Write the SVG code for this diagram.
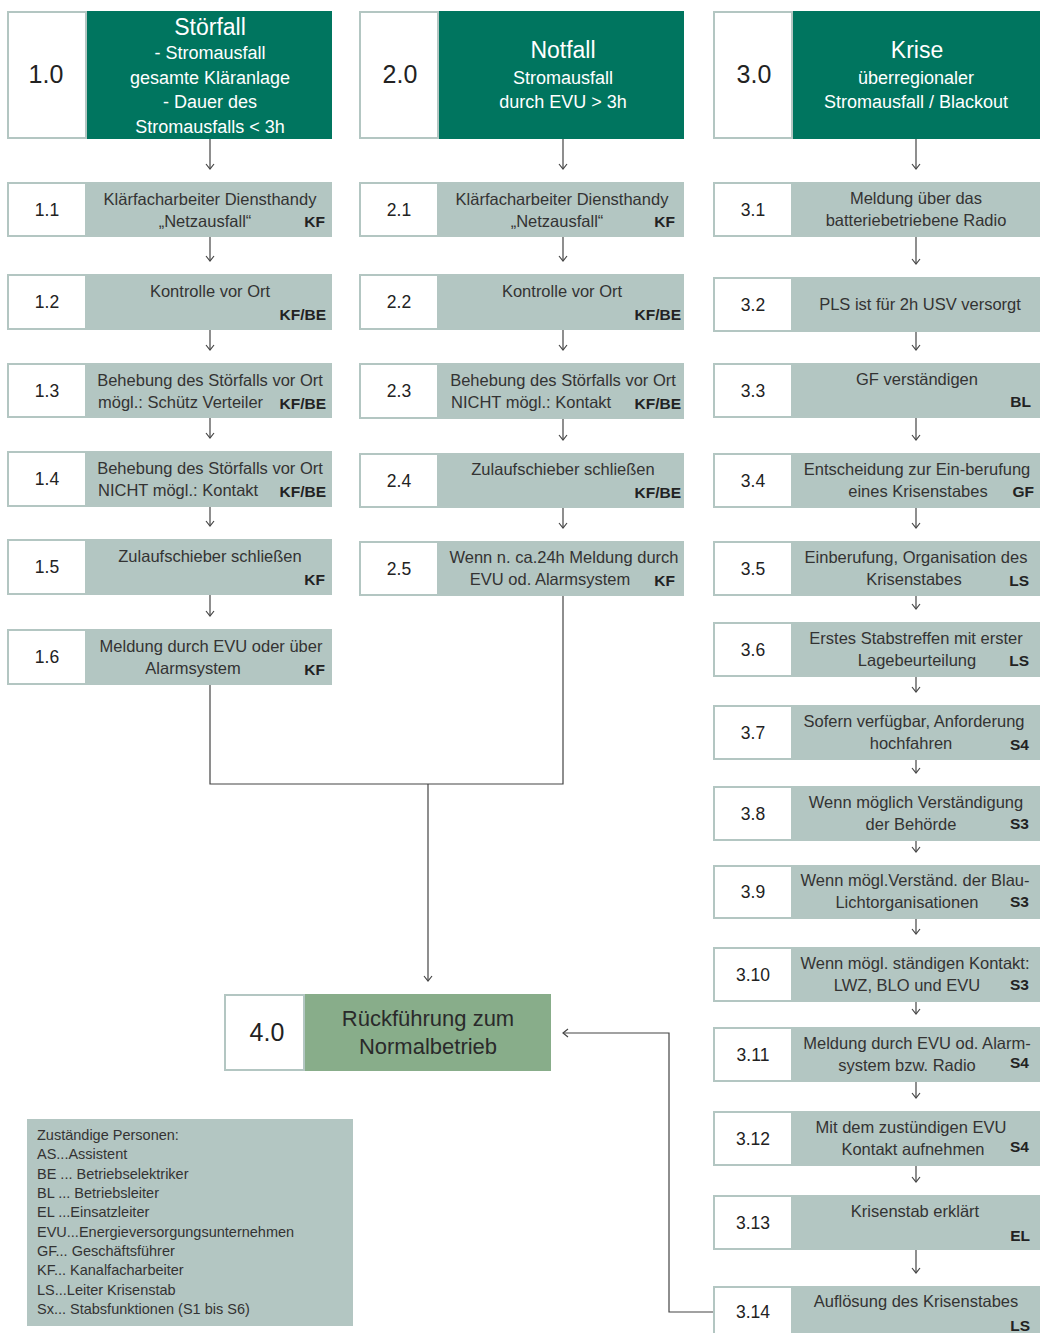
<svg xmlns="http://www.w3.org/2000/svg" width="1040" height="1333" viewBox="0 0 1040 1333">
<defs>
<style>
.nb{fill:#fff;stroke:#b3c6c2;stroke-width:2}
.hd{fill:#00755f}
.st{fill:#b3c6c2}
.g4{fill:#88ad8a}
.lg{fill:#b3c6c2}
text{font-family:"Liberation Sans",Arial,sans-serif}
.t{font-size:16.5px;fill:#333;text-anchor:middle}
.ts{font-size:16.5px;fill:#333;text-anchor:start}
.r{font-size:15.5px;font-weight:bold;fill:#222;text-anchor:end}
.n{font-size:17.5px;fill:#222;text-anchor:middle}
.N{font-size:25px;fill:#222;text-anchor:middle}
.h{font-size:18px;fill:#fff;text-anchor:middle}
.H{font-size:23px;fill:#fff;text-anchor:middle}
.g{font-size:22px;fill:#2a2a2a;text-anchor:middle}
.l{font-size:14.5px;fill:#333}
.c{fill:none;stroke:#444;stroke-width:1.2}
</style>
<marker id="arr" viewBox="-6 -6 12 12" refX="0" refY="0" markerWidth="12" markerHeight="12" markerUnits="userSpaceOnUse" orient="auto">
<path d="M-5,-4 L0,0 L-5,4" fill="none" stroke="#444" stroke-width="1.2"/>
</marker>
</defs>
<rect width="1040" height="1333" fill="#fff"/>

<g id="n1_0">
<rect class="nb" x="8" y="12" width="78" height="126"/>
<rect class="hd" x="87" y="11" width="245" height="128"/>
<text class="N" x="46" y="83">1.0</text>
<text class="H" x="210" y="35">Störfall</text>
<text class="h" x="210" y="59">- Stromausfall</text>
<text class="h" x="210" y="84">gesamte Kläranlage</text>
<text class="h" x="210" y="108">- Dauer des</text>
<text class="h" x="210" y="133">Stromausfalls &lt; 3h</text>
</g>
<g id="n2_0">
<rect class="nb" x="360" y="12" width="78" height="126"/>
<rect class="hd" x="439" y="11" width="245" height="128"/>
<text class="N" x="400" y="83">2.0</text>
<text class="H" x="563" y="58">Notfall</text>
<text class="h" x="563" y="84">Stromausfall</text>
<text class="h" x="563" y="108">durch EVU &gt; 3h</text>
</g>
<g id="n3_0">
<rect class="nb" x="714" y="12" width="78" height="126"/>
<rect class="hd" x="793" y="11" width="247" height="128"/>
<text class="N" x="754" y="83">3.0</text>
<text class="H" x="917" y="58">Krise</text>
<text class="h" x="916" y="84">überregionaler</text>
<text class="h" x="916" y="108">Stromausfall / Blackout</text>
</g>

<g id="n1_1"><rect class="nb" x="8" y="183" width="78" height="53"/><rect class="st" x="87" y="182" width="245" height="55"/>
<text class="n" x="47" y="216">1.1</text><text class="t" x="210" y="205">Klärfacharbeiter Diensthandy</text><text class="t" x="205" y="227">„Netzausfall“</text><text class="r" x="325" y="227">KF</text></g>
<g id="n1_2"><rect class="nb" x="8" y="275" width="78" height="54"/><rect class="st" x="87" y="274" width="245" height="56"/>
<text class="n" x="47" y="308">1.2</text><text class="t" x="210" y="297">Kontrolle vor Ort</text><text class="r" x="326" y="320">KF/BE</text></g>
<g id="n1_3"><rect class="nb" x="8" y="364" width="78" height="53"/><rect class="st" x="87" y="363" width="245" height="55"/>
<text class="n" x="47" y="397">1.3</text><text class="t" x="210" y="386">Behebung des Störfalls vor Ort</text><text class="ts" x="98" y="408">mögl.: Schütz Verteiler</text><text class="r" x="326" y="409">KF/BE</text></g>
<g id="n1_4"><rect class="nb" x="8" y="452" width="78" height="54"/><rect class="st" x="87" y="451" width="245" height="56"/>
<text class="n" x="47" y="485">1.4</text><text class="t" x="210" y="474">Behebung des Störfalls vor Ort</text><text class="ts" x="98" y="496">NICHT mögl.: Kontakt</text><text class="r" x="326" y="497">KF/BE</text></g>
<g id="n1_5"><rect class="nb" x="8" y="540" width="78" height="54"/><rect class="st" x="87" y="539" width="245" height="56"/>
<text class="n" x="47" y="573">1.5</text><text class="t" x="210" y="562">Zulaufschieber schließen</text><text class="r" x="325" y="585">KF</text></g>
<g id="n1_6"><rect class="nb" x="8" y="630" width="78" height="54"/><rect class="st" x="87" y="629" width="245" height="56"/>
<text class="n" x="47" y="663">1.6</text><text class="t" x="211" y="652">Meldung durch EVU oder über</text><text class="t" x="193" y="674">Alarmsystem</text><text class="r" x="325" y="675">KF</text></g>

<g id="n2_1"><rect class="nb" x="360" y="183" width="78" height="53"/><rect class="st" x="439" y="182" width="245" height="55"/>
<text class="n" x="399" y="216">2.1</text><text class="t" x="562" y="205">Klärfacharbeiter Diensthandy</text><text class="t" x="557" y="227">„Netzausfall“</text><text class="r" x="675" y="227">KF</text></g>
<g id="n2_2"><rect class="nb" x="360" y="275" width="78" height="54"/><rect class="st" x="439" y="274" width="245" height="56"/>
<text class="n" x="399" y="308">2.2</text><text class="t" x="562" y="297">Kontrolle vor Ort</text><text class="r" x="681" y="320">KF/BE</text></g>
<g id="n2_3"><rect class="nb" x="360" y="364" width="78" height="54"/><rect class="st" x="439" y="363" width="245" height="56"/>
<text class="n" x="399" y="397">2.3</text><text class="t" x="563" y="386">Behebung des Störfalls vor Ort</text><text class="ts" x="451" y="408">NICHT mögl.: Kontakt</text><text class="r" x="681" y="409">KF/BE</text></g>
<g id="n2_4"><rect class="nb" x="360" y="454" width="78" height="53"/><rect class="st" x="439" y="453" width="245" height="55"/>
<text class="n" x="399" y="487">2.4</text><text class="t" x="563" y="475">Zulaufschieber schließen</text><text class="r" x="681" y="498">KF/BE</text></g>
<g id="n2_5"><rect class="nb" x="360" y="542" width="78" height="53"/><rect class="st" x="439" y="541" width="245" height="55"/>
<text class="n" x="399" y="575">2.5</text><text class="t" x="564" y="563">Wenn n. ca.24h Meldung durch</text><text class="t" x="550" y="585">EVU od. Alarmsystem</text><text class="r" x="675" y="586">KF</text></g>

<g id="n3_1"><rect class="nb" x="714" y="183" width="78" height="53"/><rect class="st" x="793" y="182" width="247" height="55"/>
<text class="n" x="753" y="216">3.1</text><text class="t" x="916" y="204">Meldung über das</text><text class="t" x="916" y="226">batteriebetriebene Radio</text></g>
<g id="n3_2"><rect class="nb" x="714" y="278" width="78" height="53"/><rect class="st" x="793" y="277" width="247" height="55"/>
<text class="n" x="753" y="311">3.2</text><text class="t" x="920" y="310">PLS ist für 2h USV versorgt</text></g>
<g id="n3_3"><rect class="nb" x="714" y="364" width="78" height="53"/><rect class="st" x="793" y="363" width="247" height="55"/>
<text class="n" x="753" y="397">3.3</text><text class="t" x="917" y="385">GF verständigen</text><text class="r" x="1031" y="407">BL</text></g>
<g id="n3_4"><rect class="nb" x="714" y="454" width="78" height="53"/><rect class="st" x="793" y="453" width="247" height="55"/>
<text class="n" x="753" y="487">3.4</text><text class="t" x="917" y="475">Entscheidung zur Ein-berufung</text><text class="t" x="918" y="497">eines Krisenstabes</text><text class="r" x="1034" y="497">GF</text></g>
<g id="n3_5"><rect class="nb" x="714" y="542" width="78" height="53"/><rect class="st" x="793" y="541" width="247" height="55"/>
<text class="n" x="753" y="575">3.5</text><text class="t" x="916" y="563">Einberufung, Organisation des</text><text class="t" x="914" y="585">Krisenstabes</text><text class="r" x="1029" y="586">LS</text></g>
<g id="n3_6"><rect class="nb" x="714" y="623" width="78" height="53"/><rect class="st" x="793" y="622" width="247" height="55"/>
<text class="n" x="753" y="656">3.6</text><text class="t" x="916" y="644">Erstes Stabstreffen mit erster</text><text class="t" x="917" y="666">Lagebeurteilung</text><text class="r" x="1029" y="666">LS</text></g>
<g id="n3_7"><rect class="nb" x="714" y="706" width="78" height="53"/><rect class="st" x="793" y="705" width="247" height="55"/>
<text class="n" x="753" y="739">3.7</text><text class="t" x="914" y="727">Sofern verfügbar, Anforderung</text><text class="t" x="911" y="749">hochfahren</text><text class="r" x="1029" y="750">S4</text></g>
<g id="n3_8"><rect class="nb" x="714" y="787" width="78" height="53"/><rect class="st" x="793" y="786" width="247" height="55"/>
<text class="n" x="753" y="820">3.8</text><text class="t" x="916" y="808">Wenn möglich Verständigung</text><text class="t" x="911" y="830">der Behörde</text><text class="r" x="1029" y="829">S3</text></g>
<g id="n3_9"><rect class="nb" x="714" y="866" width="78" height="52"/><rect class="st" x="793" y="865" width="247" height="54"/>
<text class="n" x="753" y="898">3.9</text><text class="t" x="915" y="886">Wenn mögl.Verständ. der Blau-</text><text class="t" x="907" y="908">Lichtorganisationen</text><text class="r" x="1029" y="907">S3</text></g>
<g id="n3_10"><rect class="nb" x="714" y="948" width="78" height="53"/><rect class="st" x="793" y="947" width="247" height="55"/>
<text class="n" x="753" y="981">3.10</text><text class="t" x="915" y="969">Wenn mögl. ständigen Kontakt:</text><text class="t" x="907" y="991">LWZ, BLO und EVU</text><text class="r" x="1029" y="990">S3</text></g>
<g id="n3_11"><rect class="nb" x="714" y="1028" width="78" height="53"/><rect class="st" x="793" y="1027" width="247" height="55"/>
<text class="n" x="753" y="1061">3.11</text><text class="t" x="917" y="1049">Meldung durch EVU od. Alarm-</text><text class="t" x="907" y="1071">system bzw. Radio</text><text class="r" x="1029" y="1068">S4</text></g>
<g id="n3_12"><rect class="nb" x="714" y="1112" width="78" height="53"/><rect class="st" x="793" y="1111" width="247" height="55"/>
<text class="n" x="753" y="1145">3.12</text><text class="t" x="911" y="1133">Mit dem zustündigen EVU</text><text class="t" x="913" y="1155">Kontakt aufnehmen</text><text class="r" x="1029" y="1152">S4</text></g>
<g id="n3_13"><rect class="nb" x="714" y="1196" width="78" height="53"/><rect class="st" x="793" y="1195" width="247" height="55"/>
<text class="n" x="753" y="1229">3.13</text><text class="t" x="915" y="1217">Krisenstab erklärt</text><text class="r" x="1030" y="1241">EL</text></g>
<g id="n3_14"><rect class="nb" x="714" y="1287" width="78" height="50"/><rect class="st" x="793" y="1286" width="247" height="50"/>
<text class="n" x="753" y="1318">3.14</text><text class="t" x="916" y="1307">Auflösung des Krisenstabes</text><text class="r" x="1030" y="1331">LS</text></g>

<g id="n4_0">
<rect class="nb" x="225" y="995" width="79" height="75"/>
<rect class="g4" x="305" y="994" width="246" height="77"/>
<text class="N" x="267" y="1041">4.0</text>
<text class="g" x="428" y="1026">Rückführung zum</text>
<text class="g" x="428" y="1054">Normalbetrieb</text>
</g>

<g id="legend">
<rect class="lg" x="27" y="1119" width="326" height="207"/>
<text class="l" x="37" y="1140">Zuständige Personen:</text>
<text class="l" x="37" y="1159">AS...Assistent</text>
<text class="l" x="37" y="1179">BE ... Betriebselektriker</text>
<text class="l" x="37" y="1198">BL ... Betriebsleiter</text>
<text class="l" x="37" y="1217">EL ...Einsatzleiter</text>
<text class="l" x="37" y="1237">EVU...Energieversorgungsunternehmen</text>
<text class="l" x="37" y="1256">GF... Geschäftsführer</text>
<text class="l" x="37" y="1275">KF... Kanalfacharbeiter</text>
<text class="l" x="37" y="1295">LS...Leiter Krisenstab</text>
<text class="l" x="37" y="1314">Sx... Stabsfunktionen (S1 bis S6)</text>
</g>

<g id="connectors">
<path class="c" marker-end="url(#arr)" d="M210,139V169"/>
<path class="c" marker-end="url(#arr)" d="M210,237V261"/>
<path class="c" marker-end="url(#arr)" d="M210,330V350"/>
<path class="c" marker-end="url(#arr)" d="M210,418V438"/>
<path class="c" marker-end="url(#arr)" d="M210,507V526"/>
<path class="c" marker-end="url(#arr)" d="M210,595V616"/>
<path class="c" marker-end="url(#arr)" d="M563,139V169"/>
<path class="c" marker-end="url(#arr)" d="M563,237V261"/>
<path class="c" marker-end="url(#arr)" d="M563,330V350"/>
<path class="c" marker-end="url(#arr)" d="M563,419V440"/>
<path class="c" marker-end="url(#arr)" d="M563,508V528"/>
<path class="c" marker-end="url(#arr)" d="M916,139V169"/>
<path class="c" marker-end="url(#arr)" d="M916,237V264"/>
<path class="c" marker-end="url(#arr)" d="M916,332V350"/>
<path class="c" marker-end="url(#arr)" d="M916,418V440"/>
<path class="c" marker-end="url(#arr)" d="M916,508V528"/>
<path class="c" marker-end="url(#arr)" d="M916,596V609"/>
<path class="c" marker-end="url(#arr)" d="M916,677V692"/>
<path class="c" marker-end="url(#arr)" d="M916,760V773"/>
<path class="c" marker-end="url(#arr)" d="M916,841V852"/>
<path class="c" marker-end="url(#arr)" d="M916,919V934"/>
<path class="c" marker-end="url(#arr)" d="M916,1002V1014"/>
<path class="c" marker-end="url(#arr)" d="M916,1082V1098"/>
<path class="c" marker-end="url(#arr)" d="M916,1166V1182"/>
<path class="c" marker-end="url(#arr)" d="M916,1250V1273"/>
<path class="c" d="M210,685V784H563V596"/>
<path class="c" marker-end="url(#arr)" d="M428,784V981"/>
<path class="c" marker-end="url(#arr)" d="M713,1312H669V1033H563"/>
</g>
</svg>
